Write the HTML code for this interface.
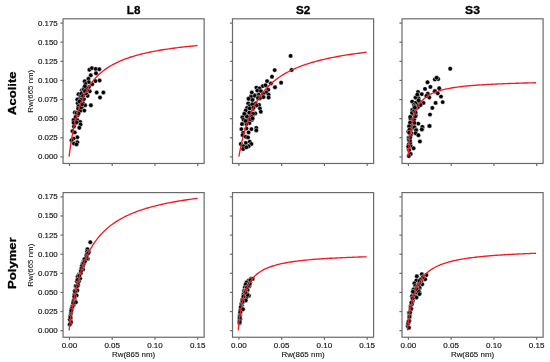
<!DOCTYPE html><html><head><meta charset="utf-8"><style>html,body{margin:0;padding:0;background:#fff;overflow:hidden;}svg{display:block;will-change:transform;}text{font-family:"Liberation Sans",sans-serif;}</style></head><body>
<div id="wrap"><svg width="550" height="362" viewBox="0 0 550 362">
<rect width="550" height="362" fill="#fff"/>
<clipPath id="cp00"><rect x="63.05" y="18.82" width="141.1" height="144.65"/></clipPath>
<g clip-path="url(#cp00)" fill="#000" stroke="#fff" stroke-width="0.4"><circle cx="89.4" cy="69.7" r="2.2"/><circle cx="91.9" cy="68.1" r="2.2"/><circle cx="95.7" cy="68.9" r="2.2"/><circle cx="99.3" cy="69.2" r="2.2"/><circle cx="96.0" cy="73.3" r="2.2"/><circle cx="90.8" cy="75.3" r="2.2"/><circle cx="88.4" cy="78.8" r="2.2"/><circle cx="84.7" cy="81.3" r="2.2"/><circle cx="88.9" cy="82.1" r="2.2"/><circle cx="95.5" cy="81.1" r="2.2"/><circle cx="99.6" cy="80.5" r="2.2"/><circle cx="92.2" cy="84.2" r="2.2"/><circle cx="85.5" cy="85.9" r="2.2"/><circle cx="83.9" cy="87.9" r="2.2"/><circle cx="88.9" cy="87.1" r="2.2"/><circle cx="81.8" cy="90.4" r="2.2"/><circle cx="89.7" cy="91.3" r="2.2"/><circle cx="96.7" cy="92.5" r="2.2"/><circle cx="103.4" cy="92.5" r="2.2"/><circle cx="78.5" cy="94.2" r="2.2"/><circle cx="87.6" cy="95.8" r="2.2"/><circle cx="100.0" cy="97.5" r="2.2"/><circle cx="80.2" cy="97.5" r="2.2"/><circle cx="77.3" cy="99.5" r="2.2"/><circle cx="83.9" cy="99.1" r="2.2"/><circle cx="77.7" cy="103.3" r="2.2"/><circle cx="83.1" cy="103.3" r="2.2"/><circle cx="85.1" cy="105.3" r="2.2"/><circle cx="90.9" cy="105.3" r="2.2"/><circle cx="78.5" cy="106.2" r="2.2"/><circle cx="78.1" cy="108.7" r="2.2"/><circle cx="81.8" cy="107.9" r="2.2"/><circle cx="84.3" cy="110.6" r="2.2"/><circle cx="80.2" cy="110.8" r="2.2"/><circle cx="74.8" cy="112.4" r="2.2"/><circle cx="77.7" cy="115.3" r="2.2"/><circle cx="73.5" cy="119.9" r="2.2"/><circle cx="77.3" cy="119.9" r="2.2"/><circle cx="80.2" cy="122.0" r="2.2"/><circle cx="80.6" cy="124.4" r="2.2"/><circle cx="75.2" cy="123.6" r="2.2"/><circle cx="73.9" cy="126.5" r="2.2"/><circle cx="79.3" cy="127.8" r="2.2"/><circle cx="73.6" cy="122.8" r="2.2"/><circle cx="76.5" cy="122.4" r="2.2"/><circle cx="72.4" cy="131.1" r="2.2"/><circle cx="74.8" cy="132.4" r="2.2"/><circle cx="77.3" cy="137.3" r="2.2"/><circle cx="73.6" cy="138.6" r="2.2"/><circle cx="71.5" cy="140.2" r="2.2"/><circle cx="77.3" cy="142.3" r="2.2"/><circle cx="74.0" cy="143.5" r="2.2"/><circle cx="76.5" cy="144.4" r="2.2"/><circle cx="82.5" cy="92.0" r="2.2"/><circle cx="84.0" cy="89.5" r="2.2"/><circle cx="86.0" cy="93.5" r="2.2"/><circle cx="81.0" cy="95.5" r="2.2"/><circle cx="85.5" cy="84.0" r="2.2"/><circle cx="87.0" cy="90.0" r="2.2"/><circle cx="83.7" cy="89.5" r="2.2"/><circle cx="81.2" cy="93.7" r="2.2"/><circle cx="80.8" cy="99.9" r="2.2"/><circle cx="81.2" cy="107.3" r="2.2"/><circle cx="86.5" cy="88.0" r="2.2"/><circle cx="85.0" cy="91.0" r="2.2"/><circle cx="83.0" cy="96.0" r="2.2"/><circle cx="79.5" cy="101.5" r="2.2"/><circle cx="82.0" cy="104.5" r="2.2"/><circle cx="84.9" cy="86.2" r="2.2"/><circle cx="76.5" cy="113.0" r="2.2"/><circle cx="75.5" cy="117.0" r="2.2"/><circle cx="78.5" cy="113.5" r="2.2"/></g>
<polyline clip-path="url(#cp00)" points="69.09,156.54 69.40,154.13 69.70,151.80 70.01,149.56 70.31,147.41 70.62,145.33 70.93,143.33 71.23,141.39 71.54,139.53 71.84,137.72 72.15,135.98 72.45,134.29 72.76,132.65 73.06,131.07 73.37,129.53 73.68,128.05 73.98,126.61 74.29,125.21 74.59,123.85 74.90,122.53 75.20,121.25 75.51,120.00 75.81,118.79 76.12,117.61 76.43,116.46 76.73,115.35 77.04,114.26 77.34,113.20 77.65,112.17 77.95,111.16 79.47,106.52 80.98,102.40 82.50,98.71 84.01,95.39 85.53,92.39 87.04,89.66 88.55,87.16 90.07,84.88 91.58,82.77 93.10,80.83 94.61,79.03 96.13,77.36 97.64,75.81 99.15,74.35 100.67,73.00 102.18,71.72 103.70,70.53 105.21,69.40 106.73,68.34 108.24,67.34 109.75,66.39 111.27,65.49 112.78,64.64 114.30,63.83 115.81,63.06 117.33,62.32 118.84,61.62 120.35,60.95 121.87,60.32 123.38,59.70 124.90,59.12 126.41,58.56 127.93,58.02 129.44,57.51 130.95,57.01 132.47,56.53 133.98,56.08 135.50,55.63 137.01,55.21 138.53,54.80 140.04,54.40 141.55,54.02 143.07,53.65 144.58,53.29 146.10,52.95 147.61,52.61 149.13,52.29 150.64,51.98 152.15,51.67 153.67,51.38 155.18,51.09 156.70,50.81 158.21,50.54 159.73,50.28 161.24,50.03 162.75,49.78 164.27,49.54 165.78,49.31 167.30,49.08 168.81,48.86 170.33,48.64 171.84,48.43 173.35,48.22 174.87,48.02 176.38,47.83 177.90,47.64 179.41,47.45 180.93,47.27 182.44,47.09 183.96,46.92 185.47,46.75 186.98,46.59 188.50,46.42 190.01,46.27 191.53,46.11 193.04,45.96 194.56,45.81 196.07,45.67 197.58,45.53" fill="none" stroke="#f21a22" stroke-width="1.35" stroke-linejoin="round"/>
<rect x="63.05" y="18.82" width="141.1" height="144.65" fill="none" stroke="#6a6a6a" stroke-width="1.2"/>
<line x1="60.45" y1="156.90" x2="63.05" y2="156.90" stroke="#6a6a6a" stroke-width="1.2"/>
<text x="57.75" y="159.40" font-size="7.2" fill="#111" stroke="#111" stroke-width="0.14" text-anchor="end" textLength="19.7" lengthAdjust="spacingAndGlyphs">0.000</text>
<line x1="60.45" y1="137.78" x2="63.05" y2="137.78" stroke="#6a6a6a" stroke-width="1.2"/>
<text x="57.75" y="140.28" font-size="7.2" fill="#111" stroke="#111" stroke-width="0.14" text-anchor="end" textLength="19.7" lengthAdjust="spacingAndGlyphs">0.025</text>
<line x1="60.45" y1="118.67" x2="63.05" y2="118.67" stroke="#6a6a6a" stroke-width="1.2"/>
<text x="57.75" y="121.17" font-size="7.2" fill="#111" stroke="#111" stroke-width="0.14" text-anchor="end" textLength="19.7" lengthAdjust="spacingAndGlyphs">0.050</text>
<line x1="60.45" y1="99.55" x2="63.05" y2="99.55" stroke="#6a6a6a" stroke-width="1.2"/>
<text x="57.75" y="102.05" font-size="7.2" fill="#111" stroke="#111" stroke-width="0.14" text-anchor="end" textLength="19.7" lengthAdjust="spacingAndGlyphs">0.075</text>
<line x1="60.45" y1="80.44" x2="63.05" y2="80.44" stroke="#6a6a6a" stroke-width="1.2"/>
<text x="57.75" y="82.94" font-size="7.2" fill="#111" stroke="#111" stroke-width="0.14" text-anchor="end" textLength="19.7" lengthAdjust="spacingAndGlyphs">0.100</text>
<line x1="60.45" y1="61.33" x2="63.05" y2="61.33" stroke="#6a6a6a" stroke-width="1.2"/>
<text x="57.75" y="63.83" font-size="7.2" fill="#111" stroke="#111" stroke-width="0.14" text-anchor="end" textLength="19.7" lengthAdjust="spacingAndGlyphs">0.125</text>
<line x1="60.45" y1="42.21" x2="63.05" y2="42.21" stroke="#6a6a6a" stroke-width="1.2"/>
<text x="57.75" y="44.71" font-size="7.2" fill="#111" stroke="#111" stroke-width="0.14" text-anchor="end" textLength="19.7" lengthAdjust="spacingAndGlyphs">0.150</text>
<line x1="60.45" y1="23.10" x2="63.05" y2="23.10" stroke="#6a6a6a" stroke-width="1.2"/>
<text x="57.75" y="25.60" font-size="7.2" fill="#111" stroke="#111" stroke-width="0.14" text-anchor="end" textLength="19.7" lengthAdjust="spacingAndGlyphs">0.175</text>
<line x1="69.46" y1="163.47" x2="69.46" y2="166.07" stroke="#6a6a6a" stroke-width="1.2"/>
<line x1="112.22" y1="163.47" x2="112.22" y2="166.07" stroke="#6a6a6a" stroke-width="1.2"/>
<line x1="154.98" y1="163.47" x2="154.98" y2="166.07" stroke="#6a6a6a" stroke-width="1.2"/>
<line x1="197.74" y1="163.47" x2="197.74" y2="166.07" stroke="#6a6a6a" stroke-width="1.2"/>
<text x="133.60" y="14.4" font-size="11.3" font-weight="bold" fill="#000" stroke="#000" stroke-width="0.3" text-anchor="middle" textLength="13.6" lengthAdjust="spacingAndGlyphs">L8</text>
<text transform="translate(33.4,91.25) rotate(-90)" x="0" y="0" font-size="7.6000000000000005" fill="#111" stroke="#111" stroke-width="0.05" text-anchor="middle" textLength="42.9" lengthAdjust="spacingAndGlyphs">Rw(665 nm)</text>
<text transform="translate(15.6,93.2) rotate(-90)" x="0" y="0" font-size="11.5" font-weight="bold" fill="#000" stroke="#000" stroke-width="0.3" text-anchor="middle" textLength="43.4" lengthAdjust="spacingAndGlyphs">Acolite</text>
<clipPath id="cp01"><rect x="232.5" y="18.82" width="141.1" height="144.65"/></clipPath>
<g clip-path="url(#cp01)" fill="#000" stroke="#fff" stroke-width="0.4"><circle cx="290.6" cy="55.9" r="2.2"/><circle cx="291.6" cy="70.0" r="2.2"/><circle cx="274.7" cy="70.1" r="2.2"/><circle cx="272.0" cy="76.7" r="2.2"/><circle cx="267.1" cy="81.1" r="2.2"/><circle cx="270.9" cy="83.4" r="2.2"/><circle cx="281.1" cy="82.7" r="2.2"/><circle cx="275.0" cy="87.3" r="2.2"/><circle cx="262.7" cy="86.1" r="2.2"/><circle cx="256.4" cy="87.6" r="2.2"/><circle cx="259.5" cy="88.4" r="2.2"/><circle cx="265.5" cy="85.2" r="2.2"/><circle cx="268.2" cy="89.7" r="2.2"/><circle cx="257.3" cy="90.6" r="2.2"/><circle cx="260.9" cy="91.1" r="2.2"/><circle cx="251.8" cy="92.5" r="2.2"/><circle cx="266.4" cy="92.5" r="2.2"/><circle cx="254.5" cy="95.2" r="2.2"/><circle cx="258.6" cy="94.7" r="2.2"/><circle cx="263.2" cy="93.8" r="2.2"/><circle cx="268.6" cy="94.7" r="2.2"/><circle cx="250.9" cy="96.5" r="2.2"/><circle cx="268.6" cy="97.5" r="2.2"/><circle cx="263.6" cy="97.0" r="2.2"/><circle cx="248.6" cy="98.8" r="2.2"/><circle cx="252.7" cy="99.3" r="2.2"/><circle cx="259.1" cy="98.4" r="2.2"/><circle cx="251.1" cy="96.7" r="2.2"/><circle cx="254.9" cy="95.8" r="2.2"/><circle cx="258.2" cy="97.1" r="2.2"/><circle cx="263.3" cy="97.1" r="2.2"/><circle cx="248.6" cy="98.8" r="2.2"/><circle cx="252.4" cy="100.0" r="2.2"/><circle cx="259.9" cy="98.3" r="2.2"/><circle cx="248.2" cy="103.4" r="2.2"/><circle cx="255.7" cy="103.4" r="2.2"/><circle cx="259.1" cy="105.0" r="2.2"/><circle cx="249.5" cy="105.9" r="2.2"/><circle cx="256.6" cy="105.5" r="2.2"/><circle cx="259.9" cy="108.4" r="2.2"/><circle cx="247.0" cy="108.0" r="2.2"/><circle cx="253.2" cy="108.8" r="2.2"/><circle cx="260.8" cy="111.7" r="2.2"/><circle cx="245.7" cy="110.5" r="2.2"/><circle cx="249.5" cy="112.6" r="2.2"/><circle cx="255.3" cy="113.4" r="2.2"/><circle cx="244.9" cy="114.2" r="2.2"/><circle cx="252.8" cy="115.5" r="2.2"/><circle cx="242.4" cy="117.2" r="2.2"/><circle cx="247.4" cy="117.6" r="2.2"/><circle cx="243.6" cy="119.7" r="2.2"/><circle cx="251.6" cy="120.1" r="2.2"/><circle cx="242.4" cy="123.8" r="2.2"/><circle cx="249.5" cy="123.0" r="2.2"/><circle cx="247.5" cy="119.7" r="2.2"/><circle cx="251.9" cy="119.7" r="2.2"/><circle cx="242.0" cy="124.1" r="2.2"/><circle cx="246.4" cy="124.1" r="2.2"/><circle cx="241.4" cy="129.1" r="2.2"/><circle cx="246.4" cy="128.5" r="2.2"/><circle cx="251.4" cy="129.1" r="2.2"/><circle cx="256.3" cy="128.0" r="2.2"/><circle cx="256.3" cy="130.4" r="2.2"/><circle cx="248.6" cy="132.4" r="2.2"/><circle cx="243.1" cy="132.9" r="2.2"/><circle cx="242.5" cy="135.1" r="2.2"/><circle cx="245.8" cy="136.8" r="2.2"/><circle cx="248.0" cy="137.4" r="2.2"/><circle cx="249.7" cy="141.8" r="2.2"/><circle cx="240.8" cy="144.0" r="2.2"/><circle cx="245.8" cy="142.9" r="2.2"/><circle cx="251.4" cy="144.0" r="2.2"/><circle cx="243.6" cy="146.2" r="2.2"/><circle cx="248.6" cy="146.2" r="2.2"/><circle cx="243.1" cy="149.0" r="2.2"/><circle cx="246.4" cy="147.3" r="2.2"/><circle cx="252.2" cy="104.3" r="2.2"/><circle cx="249.7" cy="108.4" r="2.2"/><circle cx="253.4" cy="107.6" r="2.2"/><circle cx="249.3" cy="112.6" r="2.2"/><circle cx="253.0" cy="113.8" r="2.2"/><circle cx="246.8" cy="116.3" r="2.2"/><circle cx="251.7" cy="116.7" r="2.2"/><circle cx="250.1" cy="119.2" r="2.2"/><circle cx="252.6" cy="118.4" r="2.2"/><circle cx="245.5" cy="120.9" r="2.2"/><circle cx="258.0" cy="98.1" r="2.2"/><circle cx="244.3" cy="113.8" r="2.2"/></g>
<polyline clip-path="url(#cp01)" points="238.87,156.54 239.15,155.00 239.43,153.49 239.71,152.02 239.99,150.59 240.26,149.19 240.54,147.82 240.82,146.49 241.10,145.18 241.38,143.91 241.66,142.67 241.94,141.45 242.22,140.26 242.49,139.10 242.77,137.96 243.05,136.85 243.33,135.76 243.61,134.69 243.89,133.65 244.17,132.63 244.45,131.62 244.72,130.64 245.00,129.68 245.28,128.74 245.56,127.81 245.84,126.91 246.12,126.02 246.40,125.15 246.68,124.29 246.95,123.45 248.47,119.15 249.98,115.25 251.50,111.69 253.01,108.43 254.53,105.44 256.04,102.68 257.55,100.12 259.07,97.75 260.58,95.55 262.10,93.49 263.61,91.57 265.13,89.77 266.64,88.08 268.15,86.49 269.67,84.99 271.18,83.58 272.70,82.24 274.21,80.97 275.73,79.77 277.24,78.63 278.75,77.55 280.27,76.52 281.78,75.53 283.30,74.59 284.81,73.70 286.33,72.84 287.84,72.02 289.35,71.23 290.87,70.48 292.38,69.76 293.90,69.06 295.41,68.39 296.93,67.75 298.44,67.13 299.95,66.53 301.47,65.96 302.98,65.40 304.50,64.87 306.01,64.35 307.53,63.85 309.04,63.37 310.55,62.90 312.07,62.45 313.58,62.01 315.10,61.59 316.61,61.17 318.13,60.77 319.64,60.39 321.15,60.01 322.67,59.64 324.18,59.29 325.70,58.94 327.21,58.61 328.73,58.28 330.24,57.96 331.75,57.65 333.27,57.35 334.78,57.06 336.30,56.77 337.81,56.49 339.33,56.22 340.84,55.95 342.35,55.69 343.87,55.44 345.38,55.20 346.90,54.95 348.41,54.72 349.93,54.49 351.44,54.26 352.96,54.04 354.47,53.83 355.98,53.62 357.50,53.41 359.01,53.21 360.53,53.01 362.04,52.82 363.56,52.63 365.07,52.44 366.58,52.26" fill="none" stroke="#f21a22" stroke-width="1.35" stroke-linejoin="round"/>
<rect x="232.5" y="18.82" width="141.1" height="144.65" fill="none" stroke="#6a6a6a" stroke-width="1.2"/>
<line x1="229.90" y1="156.90" x2="232.50" y2="156.90" stroke="#6a6a6a" stroke-width="1.2"/>
<line x1="229.90" y1="137.78" x2="232.50" y2="137.78" stroke="#6a6a6a" stroke-width="1.2"/>
<line x1="229.90" y1="118.67" x2="232.50" y2="118.67" stroke="#6a6a6a" stroke-width="1.2"/>
<line x1="229.90" y1="99.55" x2="232.50" y2="99.55" stroke="#6a6a6a" stroke-width="1.2"/>
<line x1="229.90" y1="80.44" x2="232.50" y2="80.44" stroke="#6a6a6a" stroke-width="1.2"/>
<line x1="229.90" y1="61.33" x2="232.50" y2="61.33" stroke="#6a6a6a" stroke-width="1.2"/>
<line x1="229.90" y1="42.21" x2="232.50" y2="42.21" stroke="#6a6a6a" stroke-width="1.2"/>
<line x1="229.90" y1="23.10" x2="232.50" y2="23.10" stroke="#6a6a6a" stroke-width="1.2"/>
<line x1="238.91" y1="163.47" x2="238.91" y2="166.07" stroke="#6a6a6a" stroke-width="1.2"/>
<line x1="281.67" y1="163.47" x2="281.67" y2="166.07" stroke="#6a6a6a" stroke-width="1.2"/>
<line x1="324.43" y1="163.47" x2="324.43" y2="166.07" stroke="#6a6a6a" stroke-width="1.2"/>
<line x1="367.19" y1="163.47" x2="367.19" y2="166.07" stroke="#6a6a6a" stroke-width="1.2"/>
<text x="303.05" y="14.4" font-size="11.3" font-weight="bold" fill="#000" stroke="#000" stroke-width="0.3" text-anchor="middle" textLength="14.3" lengthAdjust="spacingAndGlyphs">S2</text>
<clipPath id="cp02"><rect x="402.0" y="18.82" width="141.1" height="144.65"/></clipPath>
<g clip-path="url(#cp02)" fill="#000" stroke="#fff" stroke-width="0.4"><circle cx="410.8" cy="125.4" r="2.2"/><circle cx="413.1" cy="118.7" r="2.2"/><circle cx="450.2" cy="68.8" r="2.2"/><circle cx="434.9" cy="79.4" r="2.2"/><circle cx="438.2" cy="79.0" r="2.2"/><circle cx="436.6" cy="77.7" r="2.2"/><circle cx="411.0" cy="121.8" r="2.2"/><circle cx="412.4" cy="128.2" r="2.2"/><circle cx="427.5" cy="82.3" r="2.2"/><circle cx="430.4" cy="86.9" r="2.2"/><circle cx="425.0" cy="88.9" r="2.2"/><circle cx="439.2" cy="88.3" r="2.2"/><circle cx="434.9" cy="91.0" r="2.2"/><circle cx="411.3" cy="133.3" r="2.2"/><circle cx="417.9" cy="107.3" r="2.2"/><circle cx="434.8" cy="91.2" r="2.2"/><circle cx="437.7" cy="93.3" r="2.2"/><circle cx="410.6" cy="135.5" r="2.2"/><circle cx="410.4" cy="130.5" r="2.2"/><circle cx="441.0" cy="96.6" r="2.2"/><circle cx="418.0" cy="92.0" r="2.2"/><circle cx="421.8" cy="94.1" r="2.2"/><circle cx="427.7" cy="93.7" r="2.2"/><circle cx="429.3" cy="97.5" r="2.2"/><circle cx="417.6" cy="95.4" r="2.2"/><circle cx="418.5" cy="98.3" r="2.2"/><circle cx="408.6" cy="137.8" r="2.2"/><circle cx="415.5" cy="97.5" r="2.2"/><circle cx="423.5" cy="102.9" r="2.2"/><circle cx="435.6" cy="102.9" r="2.2"/><circle cx="442.7" cy="102.1" r="2.2"/><circle cx="412.2" cy="101.6" r="2.2"/><circle cx="417.7" cy="104.0" r="2.2"/><circle cx="415.5" cy="102.9" r="2.2"/><circle cx="419.7" cy="101.6" r="2.2"/><circle cx="413.9" cy="105.0" r="2.2"/><circle cx="415.7" cy="108.5" r="2.2"/><circle cx="415.1" cy="107.1" r="2.2"/><circle cx="432.3" cy="107.9" r="2.2"/><circle cx="412.2" cy="109.6" r="2.2"/><circle cx="430.0" cy="114.6" r="2.2"/><circle cx="429.2" cy="125.9" r="2.2"/><circle cx="418.3" cy="123.6" r="2.2"/><circle cx="422.5" cy="127.2" r="2.2"/><circle cx="411.4" cy="121.3" r="2.2"/><circle cx="408.8" cy="144.2" r="2.2"/><circle cx="422.1" cy="129.2" r="2.2"/><circle cx="414.5" cy="106.3" r="2.2"/><circle cx="412.5" cy="110.0" r="2.2"/><circle cx="413.7" cy="114.6" r="2.2"/><circle cx="412.0" cy="112.9" r="2.2"/><circle cx="415.8" cy="115.5" r="2.2"/><circle cx="410.4" cy="118.8" r="2.2"/><circle cx="414.2" cy="110.8" r="2.2"/><circle cx="414.1" cy="119.6" r="2.2"/><circle cx="410.0" cy="122.6" r="2.2"/><circle cx="414.5" cy="123.0" r="2.2"/><circle cx="409.1" cy="126.3" r="2.2"/><circle cx="414.5" cy="127.2" r="2.2"/><circle cx="416.2" cy="129.7" r="2.2"/><circle cx="408.3" cy="131.8" r="2.2"/><circle cx="415.8" cy="133.0" r="2.2"/><circle cx="429.6" cy="126.0" r="2.2"/><circle cx="422.3" cy="126.9" r="2.2"/><circle cx="409.6" cy="129.5" r="2.2"/><circle cx="415.6" cy="112.4" r="2.2"/><circle cx="421.8" cy="129.4" r="2.2"/><circle cx="416.0" cy="130.3" r="2.2"/><circle cx="415.5" cy="133.2" r="2.2"/><circle cx="418.4" cy="135.2" r="2.2"/><circle cx="409.3" cy="132.7" r="2.2"/><circle cx="408.6" cy="148.9" r="2.2"/><circle cx="408.8" cy="140.0" r="2.2"/><circle cx="419.9" cy="141.4" r="2.2"/><circle cx="410.7" cy="145.8" r="2.2"/><circle cx="410.3" cy="142.8" r="2.2"/><circle cx="413.6" cy="148.2" r="2.2"/><circle cx="409.3" cy="150.1" r="2.2"/><circle cx="410.0" cy="140.7" r="2.2"/><circle cx="410.7" cy="154.0" r="2.2"/><circle cx="408.8" cy="156.0" r="2.2"/><circle cx="410.2" cy="137.6" r="2.2"/><circle cx="417.3" cy="94.6" r="2.2"/><circle cx="415.3" cy="116.4" r="2.2"/><circle cx="418.5" cy="100.4" r="2.2"/><circle cx="408.3" cy="146.6" r="2.2"/><circle cx="420.6" cy="105.0" r="2.2"/><circle cx="414.8" cy="107.5" r="2.2"/><circle cx="410.2" cy="117.0" r="2.2"/><circle cx="426.4" cy="95.9" r="2.2"/></g>
<polyline clip-path="url(#cp02)" points="408.05,156.54 408.34,152.52 408.63,148.89 408.92,145.61 409.21,142.63 409.50,139.90 409.79,137.40 410.08,135.10 410.37,132.98 410.66,131.01 410.95,129.19 411.24,127.49 411.53,125.90 411.82,124.41 412.11,123.02 412.40,121.71 412.69,120.48 412.98,119.32 413.27,118.22 413.56,117.18 413.85,116.20 414.14,115.26 414.43,114.38 414.72,113.53 415.01,112.73 415.30,111.96 415.58,111.23 415.87,110.53 416.16,109.87 416.45,109.22 417.97,106.28 419.48,103.86 421.00,101.85 422.51,100.15 424.03,98.69 425.54,97.43 427.05,96.32 428.57,95.34 430.08,94.48 431.60,93.70 433.11,93.00 434.63,92.37 436.14,91.79 437.65,91.27 439.17,90.79 440.68,90.34 442.20,89.94 443.71,89.56 445.23,89.21 446.74,88.88 448.25,88.57 449.77,88.29 451.28,88.02 452.80,87.77 454.31,87.53 455.83,87.31 457.34,87.10 458.85,86.90 460.37,86.71 461.88,86.53 463.40,86.36 464.91,86.20 466.43,86.04 467.94,85.90 469.45,85.76 470.97,85.62 472.48,85.49 474.00,85.37 475.51,85.25 477.03,85.14 478.54,85.03 480.05,84.93 481.57,84.83 483.08,84.73 484.60,84.64 486.11,84.55 487.63,84.46 489.14,84.38 490.65,84.30 492.17,84.22 493.68,84.15 495.20,84.07 496.71,84.00 498.23,83.93 499.74,83.87 501.25,83.80 502.77,83.74 504.28,83.68 505.80,83.62 507.31,83.57 508.83,83.51 510.34,83.46 511.85,83.41 513.37,83.36 514.88,83.31 516.40,83.26 517.91,83.21 519.43,83.17 520.94,83.12 522.46,83.08 523.97,83.04 525.48,83.00 527.00,82.96 528.51,82.92 530.03,82.88 531.54,82.84 533.06,82.81 534.57,82.77 536.08,82.74" fill="none" stroke="#f21a22" stroke-width="1.35" stroke-linejoin="round"/>
<rect x="402.0" y="18.82" width="141.1" height="144.65" fill="none" stroke="#6a6a6a" stroke-width="1.2"/>
<line x1="399.40" y1="156.90" x2="402.00" y2="156.90" stroke="#6a6a6a" stroke-width="1.2"/>
<line x1="399.40" y1="137.78" x2="402.00" y2="137.78" stroke="#6a6a6a" stroke-width="1.2"/>
<line x1="399.40" y1="118.67" x2="402.00" y2="118.67" stroke="#6a6a6a" stroke-width="1.2"/>
<line x1="399.40" y1="99.55" x2="402.00" y2="99.55" stroke="#6a6a6a" stroke-width="1.2"/>
<line x1="399.40" y1="80.44" x2="402.00" y2="80.44" stroke="#6a6a6a" stroke-width="1.2"/>
<line x1="399.40" y1="61.33" x2="402.00" y2="61.33" stroke="#6a6a6a" stroke-width="1.2"/>
<line x1="399.40" y1="42.21" x2="402.00" y2="42.21" stroke="#6a6a6a" stroke-width="1.2"/>
<line x1="399.40" y1="23.10" x2="402.00" y2="23.10" stroke="#6a6a6a" stroke-width="1.2"/>
<line x1="408.41" y1="163.47" x2="408.41" y2="166.07" stroke="#6a6a6a" stroke-width="1.2"/>
<line x1="451.17" y1="163.47" x2="451.17" y2="166.07" stroke="#6a6a6a" stroke-width="1.2"/>
<line x1="493.93" y1="163.47" x2="493.93" y2="166.07" stroke="#6a6a6a" stroke-width="1.2"/>
<line x1="536.69" y1="163.47" x2="536.69" y2="166.07" stroke="#6a6a6a" stroke-width="1.2"/>
<text x="472.55" y="14.4" font-size="11.3" font-weight="bold" fill="#000" stroke="#000" stroke-width="0.3" text-anchor="middle" textLength="14.9" lengthAdjust="spacingAndGlyphs">S3</text>
<clipPath id="cp10"><rect x="63.05" y="192.6" width="141.1" height="144.65"/></clipPath>
<g clip-path="url(#cp10)" fill="#000" stroke="#fff" stroke-width="0.4"><circle cx="71.2" cy="312.2" r="2.2"/><circle cx="72.0" cy="308.3" r="2.2"/><circle cx="90.3" cy="242.3" r="2.2"/><circle cx="87.4" cy="249.2" r="2.2"/><circle cx="87.0" cy="251.7" r="2.2"/><circle cx="70.5" cy="323.5" r="2.2"/><circle cx="83.6" cy="264.3" r="2.2"/><circle cx="86.2" cy="255.4" r="2.2"/><circle cx="78.3" cy="277.4" r="2.2"/><circle cx="73.6" cy="303.8" r="2.2"/><circle cx="70.9" cy="313.8" r="2.2"/><circle cx="87.8" cy="258.7" r="2.2"/><circle cx="70.3" cy="316.2" r="2.2"/><circle cx="84.5" cy="259.5" r="2.2"/><circle cx="70.7" cy="318.6" r="2.2"/><circle cx="86.5" cy="258.7" r="2.2"/><circle cx="83.3" cy="262.0" r="2.2"/><circle cx="76.5" cy="288.5" r="2.2"/><circle cx="77.6" cy="280.0" r="2.2"/><circle cx="81.0" cy="269.4" r="2.2"/><circle cx="76.9" cy="286.6" r="2.2"/><circle cx="82.4" cy="265.3" r="2.2"/><circle cx="82.6" cy="263.7" r="2.2"/><circle cx="83.1" cy="266.0" r="2.2"/><circle cx="81.8" cy="266.1" r="2.2"/><circle cx="83.1" cy="269.5" r="2.2"/><circle cx="81.0" cy="271.1" r="2.2"/><circle cx="74.6" cy="299.1" r="2.2"/><circle cx="86.6" cy="256.1" r="2.2"/><circle cx="78.9" cy="274.4" r="2.2"/><circle cx="74.8" cy="293.8" r="2.2"/><circle cx="79.6" cy="274.9" r="2.2"/><circle cx="87.0" cy="254.1" r="2.2"/><circle cx="83.7" cy="263.1" r="2.2"/><circle cx="70.4" cy="320.3" r="2.2"/><circle cx="73.5" cy="302.1" r="2.2"/><circle cx="77.7" cy="276.5" r="2.2"/><circle cx="80.2" cy="278.6" r="2.2"/><circle cx="76.8" cy="281.5" r="2.2"/><circle cx="84.5" cy="259.1" r="2.2"/><circle cx="73.6" cy="305.1" r="2.2"/><circle cx="78.9" cy="281.5" r="2.2"/><circle cx="81.0" cy="273.0" r="2.2"/><circle cx="73.6" cy="300.8" r="2.2"/><circle cx="78.1" cy="285.6" r="2.2"/><circle cx="88.8" cy="252.3" r="2.2"/><circle cx="88.1" cy="253.3" r="2.2"/><circle cx="75.6" cy="286.0" r="2.2"/><circle cx="79.2" cy="275.9" r="2.2"/><circle cx="74.5" cy="294.7" r="2.2"/><circle cx="76.8" cy="289.3" r="2.2"/><circle cx="74.8" cy="290.6" r="2.2"/><circle cx="77.3" cy="290.5" r="2.2"/><circle cx="72.1" cy="306.4" r="2.2"/><circle cx="77.9" cy="282.6" r="2.2"/><circle cx="76.6" cy="295.4" r="2.2"/><circle cx="74.5" cy="297.4" r="2.2"/><circle cx="74.3" cy="296.5" r="2.2"/><circle cx="69.8" cy="319.6" r="2.2"/><circle cx="77.9" cy="284.8" r="2.2"/><circle cx="76.9" cy="286.3" r="2.2"/><circle cx="84.9" cy="261.5" r="2.2"/><circle cx="74.8" cy="291.0" r="2.2"/><circle cx="75.9" cy="302.3" r="2.2"/><circle cx="81.6" cy="268.3" r="2.2"/><circle cx="73.1" cy="303.0" r="2.2"/><circle cx="72.4" cy="307.1" r="2.2"/><circle cx="71.0" cy="311.9" r="2.2"/><circle cx="71.5" cy="308.9" r="2.2"/><circle cx="77.6" cy="279.7" r="2.2"/><circle cx="70.4" cy="317.5" r="2.2"/><circle cx="80.9" cy="271.1" r="2.2"/><circle cx="75.0" cy="291.7" r="2.2"/><circle cx="71.0" cy="322.3" r="2.2"/><circle cx="69.7" cy="324.4" r="2.2"/><circle cx="71.3" cy="310.6" r="2.2"/></g>
<polyline clip-path="url(#cp10)" points="69.14,330.34 69.44,327.87 69.74,325.47 70.05,323.15 70.35,320.90 70.66,318.73 70.96,316.61 71.26,314.57 71.57,312.58 71.87,310.65 72.18,308.77 72.48,306.95 72.78,305.18 73.09,303.45 73.39,301.78 73.70,300.15 74.00,298.56 74.30,297.01 74.61,295.50 74.91,294.03 75.22,292.60 75.52,291.20 75.83,289.84 76.13,288.51 76.43,287.21 76.74,285.94 77.04,284.70 77.35,283.49 77.65,282.31 77.95,281.16 79.47,275.77 80.98,270.92 82.50,266.54 84.01,262.56 85.53,258.93 87.04,255.60 88.55,252.54 90.07,249.72 91.58,247.11 93.10,244.68 94.61,242.43 96.13,240.32 97.64,238.35 99.15,236.51 100.67,234.78 102.18,233.15 103.70,231.61 105.21,230.16 106.73,228.79 108.24,227.49 109.75,226.25 111.27,225.08 112.78,223.97 114.30,222.91 115.81,221.90 117.33,220.93 118.84,220.01 120.35,219.13 121.87,218.28 123.38,217.48 124.90,216.70 126.41,215.96 127.93,215.24 129.44,214.55 130.95,213.89 132.47,213.25 133.98,212.64 135.50,212.05 137.01,211.48 138.53,210.93 140.04,210.39 141.55,209.88 143.07,209.38 144.58,208.90 146.10,208.43 147.61,207.98 149.13,207.54 150.64,207.12 152.15,206.71 153.67,206.31 155.18,205.92 156.70,205.54 158.21,205.18 159.73,204.82 161.24,204.47 162.75,204.14 164.27,203.81 165.78,203.49 167.30,203.18 168.81,202.87 170.33,202.58 171.84,202.29 173.35,202.01 174.87,201.74 176.38,201.47 177.90,201.21 179.41,200.95 180.93,200.70 182.44,200.46 183.96,200.22 185.47,199.99 186.98,199.76 188.50,199.54 190.01,199.33 191.53,199.11 193.04,198.90 194.56,198.70 196.07,198.50 197.58,198.31" fill="none" stroke="#f21a22" stroke-width="1.35" stroke-linejoin="round"/>
<rect x="63.05" y="192.6" width="141.1" height="144.65" fill="none" stroke="#6a6a6a" stroke-width="1.2"/>
<line x1="60.45" y1="330.68" x2="63.05" y2="330.68" stroke="#6a6a6a" stroke-width="1.2"/>
<text x="57.75" y="333.18" font-size="7.2" fill="#111" stroke="#111" stroke-width="0.14" text-anchor="end" textLength="19.7" lengthAdjust="spacingAndGlyphs">0.000</text>
<line x1="60.45" y1="311.56" x2="63.05" y2="311.56" stroke="#6a6a6a" stroke-width="1.2"/>
<text x="57.75" y="314.06" font-size="7.2" fill="#111" stroke="#111" stroke-width="0.14" text-anchor="end" textLength="19.7" lengthAdjust="spacingAndGlyphs">0.025</text>
<line x1="60.45" y1="292.45" x2="63.05" y2="292.45" stroke="#6a6a6a" stroke-width="1.2"/>
<text x="57.75" y="294.95" font-size="7.2" fill="#111" stroke="#111" stroke-width="0.14" text-anchor="end" textLength="19.7" lengthAdjust="spacingAndGlyphs">0.050</text>
<line x1="60.45" y1="273.33" x2="63.05" y2="273.33" stroke="#6a6a6a" stroke-width="1.2"/>
<text x="57.75" y="275.83" font-size="7.2" fill="#111" stroke="#111" stroke-width="0.14" text-anchor="end" textLength="19.7" lengthAdjust="spacingAndGlyphs">0.075</text>
<line x1="60.45" y1="254.22" x2="63.05" y2="254.22" stroke="#6a6a6a" stroke-width="1.2"/>
<text x="57.75" y="256.72" font-size="7.2" fill="#111" stroke="#111" stroke-width="0.14" text-anchor="end" textLength="19.7" lengthAdjust="spacingAndGlyphs">0.100</text>
<line x1="60.45" y1="235.11" x2="63.05" y2="235.11" stroke="#6a6a6a" stroke-width="1.2"/>
<text x="57.75" y="237.61" font-size="7.2" fill="#111" stroke="#111" stroke-width="0.14" text-anchor="end" textLength="19.7" lengthAdjust="spacingAndGlyphs">0.125</text>
<line x1="60.45" y1="215.99" x2="63.05" y2="215.99" stroke="#6a6a6a" stroke-width="1.2"/>
<text x="57.75" y="218.49" font-size="7.2" fill="#111" stroke="#111" stroke-width="0.14" text-anchor="end" textLength="19.7" lengthAdjust="spacingAndGlyphs">0.150</text>
<line x1="60.45" y1="196.88" x2="63.05" y2="196.88" stroke="#6a6a6a" stroke-width="1.2"/>
<text x="57.75" y="199.38" font-size="7.2" fill="#111" stroke="#111" stroke-width="0.14" text-anchor="end" textLength="19.7" lengthAdjust="spacingAndGlyphs">0.175</text>
<line x1="69.46" y1="337.25" x2="69.46" y2="339.85" stroke="#6a6a6a" stroke-width="1.2"/>
<text x="69.46" y="347.75" font-size="7.2" fill="#111" stroke="#111" stroke-width="0.14" text-anchor="middle" textLength="15.6" lengthAdjust="spacingAndGlyphs">0.00</text>
<line x1="112.22" y1="337.25" x2="112.22" y2="339.85" stroke="#6a6a6a" stroke-width="1.2"/>
<text x="112.22" y="347.75" font-size="7.2" fill="#111" stroke="#111" stroke-width="0.14" text-anchor="middle" textLength="15.6" lengthAdjust="spacingAndGlyphs">0.05</text>
<line x1="154.98" y1="337.25" x2="154.98" y2="339.85" stroke="#6a6a6a" stroke-width="1.2"/>
<text x="154.98" y="347.75" font-size="7.2" fill="#111" stroke="#111" stroke-width="0.14" text-anchor="middle" textLength="15.6" lengthAdjust="spacingAndGlyphs">0.10</text>
<line x1="197.74" y1="337.25" x2="197.74" y2="339.85" stroke="#6a6a6a" stroke-width="1.2"/>
<text x="197.74" y="347.75" font-size="7.2" fill="#111" stroke="#111" stroke-width="0.14" text-anchor="middle" textLength="15.6" lengthAdjust="spacingAndGlyphs">0.15</text>
<text x="133.60" y="357.45" font-size="7.3" fill="#111" stroke="#111" stroke-width="0.1" text-anchor="middle" textLength="43.3" lengthAdjust="spacingAndGlyphs">Rw(865 nm)</text>
<text transform="translate(33.4,265.2) rotate(-90)" x="0" y="0" font-size="7.6000000000000005" fill="#111" stroke="#111" stroke-width="0.05" text-anchor="middle" textLength="42.9" lengthAdjust="spacingAndGlyphs">Rw(665 nm)</text>
<text transform="translate(15.6,263.1) rotate(-90)" x="0" y="0" font-size="11.5" font-weight="bold" fill="#000" stroke="#000" stroke-width="0.3" text-anchor="middle" textLength="51.6" lengthAdjust="spacingAndGlyphs">Polymer</text>
<clipPath id="cp11"><rect x="232.5" y="192.6" width="141.1" height="144.65"/></clipPath>
<g clip-path="url(#cp11)" fill="#000" stroke="#fff" stroke-width="0.4"><circle cx="251.0" cy="278.7" r="2.2"/><circle cx="248.5" cy="280.8" r="2.2"/><circle cx="246.4" cy="282.4" r="2.2"/><circle cx="245.6" cy="284.5" r="2.2"/><circle cx="249.3" cy="286.2" r="2.2"/><circle cx="246.2" cy="289.9" r="2.2"/><circle cx="239.6" cy="323.2" r="2.2"/><circle cx="243.4" cy="300.0" r="2.2"/><circle cx="243.8" cy="296.8" r="2.2"/><circle cx="244.8" cy="287.4" r="2.2"/><circle cx="241.9" cy="305.2" r="2.2"/><circle cx="246.6" cy="288.1" r="2.2"/><circle cx="247.7" cy="289.9" r="2.2"/><circle cx="241.3" cy="308.3" r="2.2"/><circle cx="243.9" cy="290.7" r="2.2"/><circle cx="241.0" cy="307.3" r="2.2"/><circle cx="239.4" cy="318.9" r="2.2"/><circle cx="247.3" cy="294.0" r="2.2"/><circle cx="244.0" cy="294.1" r="2.2"/><circle cx="252.7" cy="278.9" r="2.2"/><circle cx="248.9" cy="295.7" r="2.2"/><circle cx="243.5" cy="294.0" r="2.2"/><circle cx="246.4" cy="297.3" r="2.2"/><circle cx="243.1" cy="298.2" r="2.2"/><circle cx="244.2" cy="291.1" r="2.2"/><circle cx="247.5" cy="295.0" r="2.2"/><circle cx="246.9" cy="287.5" r="2.2"/><circle cx="240.7" cy="311.7" r="2.2"/><circle cx="239.5" cy="322.3" r="2.2"/><circle cx="242.2" cy="300.2" r="2.2"/><circle cx="243.6" cy="296.1" r="2.2"/><circle cx="245.8" cy="300.5" r="2.2"/><circle cx="239.7" cy="320.4" r="2.2"/><circle cx="241.3" cy="304.0" r="2.2"/><circle cx="240.3" cy="310.3" r="2.2"/><circle cx="240.0" cy="314.5" r="2.2"/><circle cx="242.5" cy="302.2" r="2.2"/><circle cx="240.8" cy="307.1" r="2.2"/><circle cx="245.4" cy="291.3" r="2.2"/><circle cx="243.0" cy="309.3" r="2.2"/><circle cx="240.1" cy="315.6" r="2.2"/><circle cx="248.9" cy="285.2" r="2.2"/><circle cx="250.2" cy="282.6" r="2.2"/><circle cx="239.9" cy="312.9" r="2.2"/><circle cx="240.3" cy="312.1" r="2.2"/><circle cx="249.8" cy="283.7" r="2.2"/><circle cx="250.4" cy="280.1" r="2.2"/><circle cx="239.7" cy="316.5" r="2.2"/><circle cx="240.3" cy="319.3" r="2.2"/><circle cx="239.9" cy="318.0" r="2.2"/><circle cx="245.3" cy="292.6" r="2.2"/><circle cx="242.6" cy="301.7" r="2.2"/><circle cx="239.7" cy="322.0" r="2.2"/><circle cx="243.5" cy="296.4" r="2.2"/></g>
<polyline clip-path="url(#cp11)" points="238.22,330.34 238.52,327.19 238.82,324.29 239.12,321.60 239.43,319.11 239.73,316.79 240.03,314.63 240.33,312.61 240.63,310.71 240.93,308.94 241.23,307.27 241.53,305.69 241.83,304.20 242.14,302.80 242.44,301.47 242.74,300.21 243.04,299.01 243.34,297.87 243.64,296.78 243.94,295.75 244.24,294.76 244.54,293.82 244.85,292.92 245.15,292.06 245.45,291.23 245.75,290.44 246.05,289.68 246.35,288.95 246.65,288.25 246.95,287.58 248.47,284.54 249.98,281.98 251.50,279.81 253.01,277.94 254.53,276.31 256.04,274.87 257.55,273.61 259.07,272.47 260.58,271.46 262.10,270.54 263.61,269.71 265.13,268.96 266.64,268.26 268.15,267.63 269.67,267.04 271.18,266.50 272.70,266.00 274.21,265.53 275.73,265.10 277.24,264.69 278.75,264.31 280.27,263.95 281.78,263.62 283.30,263.30 284.81,263.00 286.33,262.72 287.84,262.45 289.35,262.20 290.87,261.96 292.38,261.73 293.90,261.52 295.41,261.31 296.93,261.11 298.44,260.92 299.95,260.74 301.47,260.57 302.98,260.40 304.50,260.24 306.01,260.09 307.53,259.95 309.04,259.81 310.55,259.67 312.07,259.54 313.58,259.42 315.10,259.29 316.61,259.18 318.13,259.07 319.64,258.96 321.15,258.85 322.67,258.75 324.18,258.65 325.70,258.56 327.21,258.47 328.73,258.38 330.24,258.29 331.75,258.21 333.27,258.12 334.78,258.05 336.30,257.97 337.81,257.89 339.33,257.82 340.84,257.75 342.35,257.68 343.87,257.62 345.38,257.55 346.90,257.49 348.41,257.43 349.93,257.37 351.44,257.31 352.96,257.25 354.47,257.19 355.98,257.14 357.50,257.09 359.01,257.04 360.53,256.99 362.04,256.94 363.56,256.89 365.07,256.84 366.58,256.79" fill="none" stroke="#f21a22" stroke-width="1.35" stroke-linejoin="round"/>
<rect x="232.5" y="192.6" width="141.1" height="144.65" fill="none" stroke="#6a6a6a" stroke-width="1.2"/>
<line x1="229.90" y1="330.68" x2="232.50" y2="330.68" stroke="#6a6a6a" stroke-width="1.2"/>
<line x1="229.90" y1="311.56" x2="232.50" y2="311.56" stroke="#6a6a6a" stroke-width="1.2"/>
<line x1="229.90" y1="292.45" x2="232.50" y2="292.45" stroke="#6a6a6a" stroke-width="1.2"/>
<line x1="229.90" y1="273.33" x2="232.50" y2="273.33" stroke="#6a6a6a" stroke-width="1.2"/>
<line x1="229.90" y1="254.22" x2="232.50" y2="254.22" stroke="#6a6a6a" stroke-width="1.2"/>
<line x1="229.90" y1="235.11" x2="232.50" y2="235.11" stroke="#6a6a6a" stroke-width="1.2"/>
<line x1="229.90" y1="215.99" x2="232.50" y2="215.99" stroke="#6a6a6a" stroke-width="1.2"/>
<line x1="229.90" y1="196.88" x2="232.50" y2="196.88" stroke="#6a6a6a" stroke-width="1.2"/>
<line x1="238.91" y1="337.25" x2="238.91" y2="339.85" stroke="#6a6a6a" stroke-width="1.2"/>
<text x="238.91" y="347.75" font-size="7.2" fill="#111" stroke="#111" stroke-width="0.14" text-anchor="middle" textLength="15.6" lengthAdjust="spacingAndGlyphs">0.00</text>
<line x1="281.67" y1="337.25" x2="281.67" y2="339.85" stroke="#6a6a6a" stroke-width="1.2"/>
<text x="281.67" y="347.75" font-size="7.2" fill="#111" stroke="#111" stroke-width="0.14" text-anchor="middle" textLength="15.6" lengthAdjust="spacingAndGlyphs">0.05</text>
<line x1="324.43" y1="337.25" x2="324.43" y2="339.85" stroke="#6a6a6a" stroke-width="1.2"/>
<text x="324.43" y="347.75" font-size="7.2" fill="#111" stroke="#111" stroke-width="0.14" text-anchor="middle" textLength="15.6" lengthAdjust="spacingAndGlyphs">0.10</text>
<line x1="367.19" y1="337.25" x2="367.19" y2="339.85" stroke="#6a6a6a" stroke-width="1.2"/>
<text x="367.19" y="347.75" font-size="7.2" fill="#111" stroke="#111" stroke-width="0.14" text-anchor="middle" textLength="15.6" lengthAdjust="spacingAndGlyphs">0.15</text>
<text x="303.05" y="357.45" font-size="7.3" fill="#111" stroke="#111" stroke-width="0.1" text-anchor="middle" textLength="43.3" lengthAdjust="spacingAndGlyphs">Rw(865 nm)</text>
<clipPath id="cp12"><rect x="402.0" y="192.6" width="141.1" height="144.65"/></clipPath>
<g clip-path="url(#cp12)" fill="#000" stroke="#fff" stroke-width="0.4"><circle cx="416.8" cy="276.3" r="2.2"/><circle cx="414.6" cy="290.3" r="2.2"/><circle cx="408.3" cy="321.8" r="2.2"/><circle cx="412.9" cy="300.8" r="2.2"/><circle cx="407.8" cy="324.9" r="2.2"/><circle cx="421.8" cy="274.2" r="2.2"/><circle cx="426.4" cy="275.0" r="2.2"/><circle cx="423.2" cy="276.8" r="2.2"/><circle cx="425.1" cy="279.2" r="2.2"/><circle cx="421.4" cy="280.8" r="2.2"/><circle cx="416.4" cy="280.4" r="2.2"/><circle cx="411.1" cy="305.2" r="2.2"/><circle cx="414.4" cy="283.3" r="2.2"/><circle cx="417.8" cy="285.7" r="2.2"/><circle cx="409.9" cy="315.1" r="2.2"/><circle cx="422.2" cy="284.2" r="2.2"/><circle cx="415.2" cy="285.8" r="2.2"/><circle cx="413.9" cy="294.4" r="2.2"/><circle cx="409.3" cy="316.1" r="2.2"/><circle cx="409.5" cy="313.3" r="2.2"/><circle cx="412.9" cy="296.0" r="2.2"/><circle cx="416.9" cy="287.0" r="2.2"/><circle cx="412.1" cy="302.3" r="2.2"/><circle cx="419.7" cy="287.9" r="2.2"/><circle cx="416.2" cy="288.3" r="2.2"/><circle cx="422.7" cy="277.4" r="2.2"/><circle cx="409.3" cy="317.7" r="2.2"/><circle cx="413.3" cy="297.5" r="2.2"/><circle cx="411.1" cy="308.3" r="2.2"/><circle cx="418.5" cy="290.0" r="2.2"/><circle cx="413.5" cy="289.5" r="2.2"/><circle cx="412.7" cy="292.0" r="2.2"/><circle cx="417.3" cy="292.9" r="2.2"/><circle cx="419.7" cy="293.3" r="2.2"/><circle cx="411.9" cy="296.2" r="2.2"/><circle cx="410.4" cy="310.2" r="2.2"/><circle cx="410.8" cy="305.8" r="2.2"/><circle cx="420.4" cy="279.4" r="2.2"/><circle cx="415.2" cy="296.6" r="2.2"/><circle cx="416.3" cy="289.3" r="2.2"/><circle cx="413.8" cy="292.7" r="2.2"/><circle cx="412.0" cy="304.0" r="2.2"/><circle cx="413.0" cy="291.7" r="2.2"/><circle cx="418.8" cy="291.7" r="2.2"/><circle cx="418.9" cy="283.9" r="2.2"/><circle cx="419.4" cy="294.1" r="2.2"/><circle cx="416.5" cy="297.5" r="2.2"/><circle cx="412.4" cy="298.1" r="2.2"/><circle cx="409.2" cy="320.5" r="2.2"/><circle cx="409.1" cy="312.6" r="2.2"/><circle cx="407.9" cy="326.5" r="2.2"/><circle cx="419.6" cy="282.4" r="2.2"/><circle cx="411.3" cy="302.8" r="2.2"/><circle cx="410.7" cy="307.4" r="2.2"/><circle cx="408.2" cy="323.2" r="2.2"/><circle cx="411.2" cy="308.9" r="2.2"/><circle cx="419.4" cy="281.0" r="2.2"/><circle cx="410.1" cy="312.6" r="2.2"/><circle cx="409.5" cy="316.7" r="2.2"/><circle cx="409.0" cy="321.3" r="2.2"/><circle cx="409.0" cy="327.7" r="2.2"/><circle cx="412.7" cy="298.5" r="2.2"/></g>
<polyline clip-path="url(#cp12)" points="407.50,330.34 407.81,327.40 408.12,324.66 408.42,322.11 408.73,319.72 409.04,317.48 409.35,315.38 409.66,313.40 409.97,311.53 410.28,309.77 410.59,308.10 410.90,306.52 411.20,305.03 411.51,303.60 411.82,302.25 412.13,300.96 412.44,299.73 412.75,298.56 413.06,297.44 413.37,296.37 413.67,295.34 413.98,294.36 414.29,293.42 414.60,292.52 414.91,291.65 415.22,290.81 415.53,290.01 415.84,289.23 416.14,288.49 416.45,287.77 417.97,284.58 419.48,281.87 421.00,279.54 422.51,277.51 424.03,275.73 425.54,274.15 427.05,272.74 428.57,271.48 430.08,270.34 431.60,269.31 433.11,268.37 434.63,267.51 436.14,266.73 437.65,266.00 439.17,265.33 440.68,264.71 442.20,264.13 443.71,263.59 445.23,263.08 446.74,262.61 448.25,262.17 449.77,261.75 451.28,261.36 452.80,260.99 454.31,260.64 455.83,260.31 457.34,260.00 458.85,259.70 460.37,259.42 461.88,259.15 463.40,258.89 464.91,258.65 466.43,258.42 467.94,258.19 469.45,257.98 470.97,257.77 472.48,257.58 474.00,257.39 475.51,257.21 477.03,257.03 478.54,256.87 480.05,256.71 481.57,256.55 483.08,256.40 484.60,256.26 486.11,256.12 487.63,255.98 489.14,255.86 490.65,255.73 492.17,255.61 493.68,255.49 495.20,255.38 496.71,255.27 498.23,255.16 499.74,255.06 501.25,254.96 502.77,254.86 504.28,254.76 505.80,254.67 507.31,254.58 508.83,254.49 510.34,254.41 511.85,254.33 513.37,254.25 514.88,254.17 516.40,254.09 517.91,254.02 519.43,253.95 520.94,253.88 522.46,253.81 523.97,253.74 525.48,253.67 527.00,253.61 528.51,253.55 530.03,253.49 531.54,253.43 533.06,253.37 534.57,253.31 536.08,253.26" fill="none" stroke="#f21a22" stroke-width="1.35" stroke-linejoin="round"/>
<rect x="402.0" y="192.6" width="141.1" height="144.65" fill="none" stroke="#6a6a6a" stroke-width="1.2"/>
<line x1="399.40" y1="330.68" x2="402.00" y2="330.68" stroke="#6a6a6a" stroke-width="1.2"/>
<line x1="399.40" y1="311.56" x2="402.00" y2="311.56" stroke="#6a6a6a" stroke-width="1.2"/>
<line x1="399.40" y1="292.45" x2="402.00" y2="292.45" stroke="#6a6a6a" stroke-width="1.2"/>
<line x1="399.40" y1="273.33" x2="402.00" y2="273.33" stroke="#6a6a6a" stroke-width="1.2"/>
<line x1="399.40" y1="254.22" x2="402.00" y2="254.22" stroke="#6a6a6a" stroke-width="1.2"/>
<line x1="399.40" y1="235.11" x2="402.00" y2="235.11" stroke="#6a6a6a" stroke-width="1.2"/>
<line x1="399.40" y1="215.99" x2="402.00" y2="215.99" stroke="#6a6a6a" stroke-width="1.2"/>
<line x1="399.40" y1="196.88" x2="402.00" y2="196.88" stroke="#6a6a6a" stroke-width="1.2"/>
<line x1="408.41" y1="337.25" x2="408.41" y2="339.85" stroke="#6a6a6a" stroke-width="1.2"/>
<text x="408.41" y="347.75" font-size="7.2" fill="#111" stroke="#111" stroke-width="0.14" text-anchor="middle" textLength="15.6" lengthAdjust="spacingAndGlyphs">0.00</text>
<line x1="451.17" y1="337.25" x2="451.17" y2="339.85" stroke="#6a6a6a" stroke-width="1.2"/>
<text x="451.17" y="347.75" font-size="7.2" fill="#111" stroke="#111" stroke-width="0.14" text-anchor="middle" textLength="15.6" lengthAdjust="spacingAndGlyphs">0.05</text>
<line x1="493.93" y1="337.25" x2="493.93" y2="339.85" stroke="#6a6a6a" stroke-width="1.2"/>
<text x="493.93" y="347.75" font-size="7.2" fill="#111" stroke="#111" stroke-width="0.14" text-anchor="middle" textLength="15.6" lengthAdjust="spacingAndGlyphs">0.10</text>
<line x1="536.69" y1="337.25" x2="536.69" y2="339.85" stroke="#6a6a6a" stroke-width="1.2"/>
<text x="536.69" y="347.75" font-size="7.2" fill="#111" stroke="#111" stroke-width="0.14" text-anchor="middle" textLength="15.6" lengthAdjust="spacingAndGlyphs">0.15</text>
<text x="472.55" y="357.45" font-size="7.3" fill="#111" stroke="#111" stroke-width="0.1" text-anchor="middle" textLength="43.3" lengthAdjust="spacingAndGlyphs">Rw(865 nm)</text>
</svg></div></body></html>
